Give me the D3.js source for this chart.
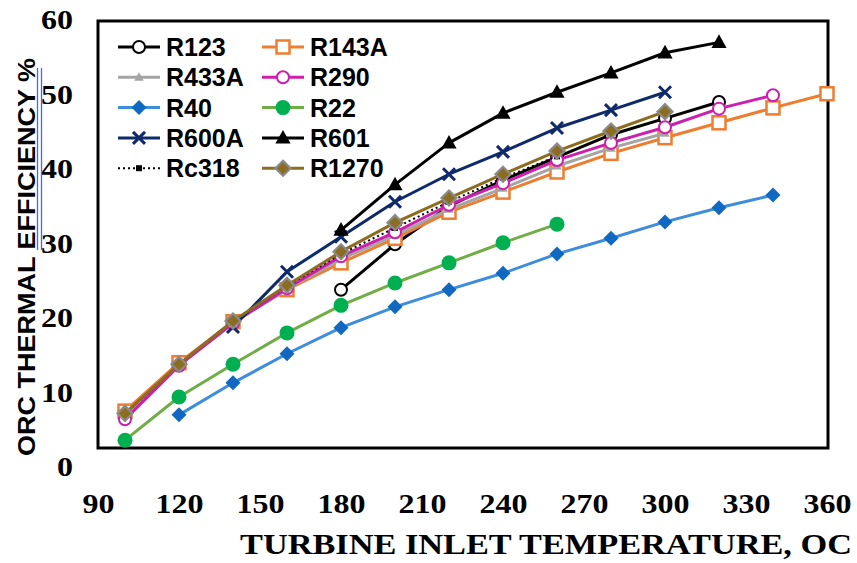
<!DOCTYPE html>
<html>
<head>
<meta charset="utf-8">
<script src="https://cdn.jsdelivr.net/npm/d3@7"></script>
<style>
  html, body { margin: 0; padding: 0; background: #fff; }
  svg { display: block; }
</style>
</head>
<body>
<svg id="chart"></svg>
<script>
const width = 857;
const height = 563;

// turbine inlet temperature (°C)
const temps = [100, 120, 140, 160, 180, 200, 220, 240, 260, 280, 300, 320, 340, 360];

// thermal efficiency (%) per fluid, null where no point
const r123  = [null, null, null, null, 23.8, 29.9, 35.0, 38.5, 41.6, 44.6, 46.8, 49.0, null, null];
const r143a = [7.5, 14.0, 19.5, 23.8, 27.4, 30.7, 34.2, 36.9, 39.6, 42.1, 44.2, 46.2, 48.2, 50.1];
const r433a = [7.0, 13.7, 19.5, 23.9, 27.9, 31.1, 34.6, 37.4, 40.4, 42.8, 44.8, null, null, null];
const r290  = [6.4, 13.6, 19.3, 24.0, 28.3, 31.5, 35.2, 38.1, 41.2, 43.5, 45.6, 48.1, 49.9, null];
const r40   = [null, 7.0, 11.3, 15.2, 18.7, 21.5, 23.8, 26.0, 28.6, 30.7, 32.9, 34.8, 36.5, null];
const r22   = [3.6, 9.4, 13.8, 18.0, 21.7, 24.7, 27.4, 30.1, 32.6, null, null, null, null, null];
const r600a = [null, null, 18.8, 26.2, 30.9, 35.6, 39.3, 42.3, 45.5, 47.9, 50.3, null, null, null];
const r601  = [null, null, null, null, 31.8, 37.9, 43.5, 47.5, 50.3, 52.9, 55.6, 57.0, null, null];
const rc318 = [7.1, 13.8, 19.6, 24.3, 28.6, 32.1, 35.6, 38.8, 41.7, null, null, null, null, null];
const r1270 = [7.2, 13.8, 19.6, 24.4, 28.9, 32.8, 36.1, 39.3, 42.4, 45.1, 47.7, null, null, null];

const xTicks = [90, 120, 150, 180, 210, 240, 270, 300, 330, 360];
const yTicks = [0, 10, 20, 30, 40, 50, 60];

const series = [
  { name: "R123",  values: r123,  line: "#000000", marker: "circle",   fill: "#fff",    stroke: "#000000" },
  { name: "R143A", values: r143a, line: "#ED7D31", marker: "square",   fill: "#fff",    stroke: "#ED7D31" },
  { name: "R433A", values: r433a, line: "#A5A5A5", marker: "triangle", fill: "#A5A5A5", stroke: "#A5A5A5", small: true },
  { name: "R290",  values: r290,  line: "#CC1FAE", marker: "circle",   fill: "#fff",    stroke: "#CC1FAE" },
  { name: "R40",   values: r40,   line: "#3D8DDB", marker: "diamond",  fill: "#1068C0", stroke: "#1068C0" },
  { name: "R22",   values: r22,   line: "#70AD47", marker: "dot",      fill: "#00B050", stroke: "#00B050" },
  { name: "R600A", values: r600a, line: "#0E2A6B", marker: "cross",    fill: "none",    stroke: "#0E2A6B" },
  { name: "R601",  values: r601,  line: "#000000", marker: "triangle", fill: "#000000", stroke: "#000000" },
  { name: "Rc318", values: rc318, line: "#000000", marker: "smallsq",  fill: "#000000", stroke: "#000000", dash: "2,3" },
  { name: "R1270", values: r1270, line: "#8C6D1F", marker: "diamond",  fill: "#8C6D1F", stroke: "#8A8A8A" }
];

const x = d3.scaleLinear().domain([90, 360]).range([98, 827]);
const y = d3.scaleLinear().domain([0, 60]).range([467, 20]);

const svg = d3.select("#chart")
  .attr("width", width)
  .attr("height", height)
  .attr("viewBox", [0, 0, width, height]);

// plot frame
svg.append("rect")
  .attr("x", 98).attr("y", 21)
  .attr("width", 730).attr("height", 427)
  .attr("fill", "none")
  .attr("stroke", "#000")
  .attr("stroke-width", 3);

// tick labels (the original is a bit stretched sideways)
function styleTicks(sel) {
  sel.style("font-family", "'Liberation Serif', 'Times New Roman', serif")
    .style("font-weight", "bold")
    .style("font-size", "28px")
    .attr("fill", "#000")
    .attr("textLength", d => String(d).length * 16)
    .attr("lengthAdjust", "spacingAndGlyphs");
}

const xAxis = svg.append("g")
  .attr("transform", "translate(0,493)")
  .call(d3.axisBottom(x).tickValues(xTicks).tickSize(0).tickPadding(0));
xAxis.select(".domain").remove();
xAxis.selectAll("text").attr("dy", "0.71em").call(styleTicks);

const yAxis = svg.append("g")
  .attr("transform", "translate(73,0)")
  .call(d3.axisLeft(y).tickValues(yTicks).tickSize(0).tickPadding(0));
yAxis.select(".domain").remove();
yAxis.selectAll("text").call(styleTicks);

// axis titles
svg.append("text")
  .attr("x", 852).attr("y", 554)
  .attr("text-anchor", "end")
  .attr("textLength", 612)
  .attr("lengthAdjust", "spacingAndGlyphs")
  .style("font-family", "'Liberation Serif', 'Times New Roman', serif")
  .style("font-weight", "bold")
  .style("font-size", "29px")
  .text("TURBINE INLET TEMPERATURE, OC");

svg.append("text")
  .attr("transform", "translate(35,456) rotate(-90)")
  .attr("textLength", 398)
  .attr("lengthAdjust", "spacingAndGlyphs")
  .style("font-family", "'Liberation Sans', Arial, sans-serif")
  .style("font-weight", "bold")
  .style("font-size", "24px")
  .text("ORC THERMAL EFFICIENCY %");

// stray blue lines over the y title
[37.5, 41.5].forEach(px => {
  svg.append("line")
    .attr("x1", px).attr("x2", px)
    .attr("y1", 68).attr("y2", 250)
    .attr("stroke", "#3D6FD9")
    .attr("stroke-width", 1.3);
});

function drawMarker(g, s, cx, cy) {
  const sw = 2;
  if (s.marker === "circle") {
    g.append("circle").attr("cx", cx).attr("cy", cy).attr("r", 6)
      .attr("fill", s.fill).attr("stroke", s.stroke).attr("stroke-width", sw);
  } else if (s.marker === "dot") {
    g.append("circle").attr("cx", cx).attr("cy", cy).attr("r", 7.5)
      .attr("fill", s.fill);
  } else if (s.marker === "square") {
    g.append("rect").attr("x", cx - 6.5).attr("y", cy - 6.5).attr("width", 13).attr("height", 13)
      .attr("fill", s.fill).attr("stroke", s.stroke).attr("stroke-width", 2.5);
  } else if (s.marker === "smallsq") {
    g.append("rect").attr("x", cx - 3).attr("y", cy - 3).attr("width", 6).attr("height", 6)
      .attr("fill", s.fill);
  } else if (s.marker === "triangle") {
    const r = s.small ? 5 : 8;
    g.append("path")
      .attr("d", `M${cx},${cy - r}L${cx + r * 0.95},${cy + r * 0.7}L${cx - r * 0.95},${cy + r * 0.7}Z`)
      .attr("fill", s.fill);
  } else if (s.marker === "diamond") {
    const r = 7.5;
    g.append("path")
      .attr("d", `M${cx},${cy - r}L${cx + r},${cy}L${cx},${cy + r}L${cx - r},${cy}Z`)
      .attr("fill", s.fill)
      .attr("stroke", s.stroke === s.fill ? "none" : s.stroke)
      .attr("stroke-width", 2.2);
  } else if (s.marker === "cross") {
    const r = 6;
    g.append("path")
      .attr("d", `M${cx - r},${cy - r}L${cx + r},${cy + r}M${cx - r},${cy + r}L${cx + r},${cy - r}`)
      .attr("stroke", s.stroke).attr("stroke-width", 3).attr("fill", "none");
  }
}

const line = d3.line()
  .defined(d => d[1] != null)
  .x(d => x(d[0]))
  .y(d => y(d[1]));

const plot = svg.append("g");
series.forEach(s => {
  const pts = temps.map((t, i) => [t, s.values[i]]);
  const g = plot.append("g");
  g.append("path")
    .attr("d", line(pts))
    .attr("fill", "none")
    .attr("stroke", s.line)
    .attr("stroke-width", s.dash ? 2 : 3)
    .attr("stroke-dasharray", s.dash || null)
    .attr("stroke-linejoin", "round");
  pts.filter(d => d[1] != null).forEach(d => drawMarker(g, s, x(d[0]), y(d[1])));
});

// legend, two columns
const legend = svg.append("g");
series.forEach((s, i) => {
  const col = i % 2;
  const row = Math.floor(i / 2);
  const lx = col === 0 ? 118 : 262;
  const ly = 47 + row * 30.3;
  const g = legend.append("g");
  g.append("line")
    .attr("x1", lx).attr("x2", lx + 42)
    .attr("y1", ly).attr("y2", ly)
    .attr("stroke", s.line)
    .attr("stroke-width", s.dash ? 2 : 3)
    .attr("stroke-dasharray", s.dash || null);
  drawMarker(g, s, lx + 21, ly);
  g.append("text")
    .attr("x", lx + 48).attr("y", ly)
    .attr("dy", "0.36em")
    .style("font-family", "'Liberation Sans', Arial, sans-serif")
    .style("font-weight", "bold")
    .style("font-size", "25px")
    .text(s.name);
});
</script>
</body>
</html>
